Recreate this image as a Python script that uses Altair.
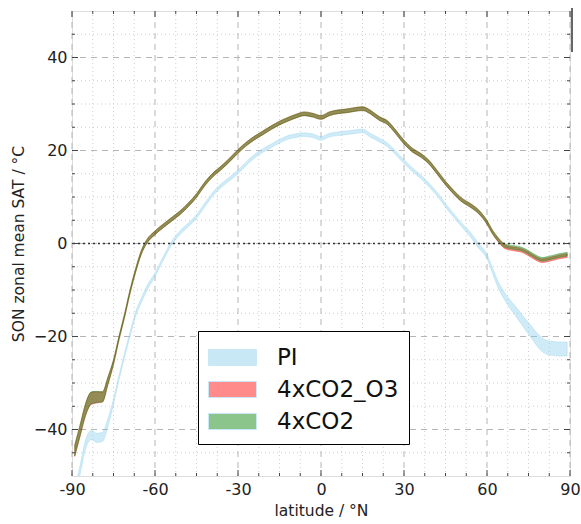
import altair as alt
import pandas as pd

# ---------------- data ----------------
lat = [-89, -87, -85, -83, -81, -79, -77, -75, -73, -71, -69, -67, -65, -63,
       -60, -57, -54, -51, -48, -45, -42, -39, -36, -33, -30, -27, -24, -21,
       -18, -15, -12, -9, -6, -3, 0, 3, 6, 9, 12, 15, 18, 21, 24, 27, 30, 33,
       36, 39, 42, 45, 48, 51, 54, 57, 60, 62, 64, 66, 68, 70, 72, 74, 76, 78,
       80, 82, 84, 86, 88, 89]

pi_mid = [-53.5, -48.5, -43.0, -41.2, -41.8, -41.6, -38.5, -34.0, -28.8, -24.0,
          -19.5, -15.2, -12.3, -9.7, -6.7, -3.2, 0.1, 2.3, 4.0, 5.8, 8.3, 10.7,
          12.5, 13.9, 15.4, 17.2, 18.8, 20.0, 21.0, 22.0, 22.8, 23.2, 23.4, 23.2,
          22.6, 23.3, 23.6, 23.8, 24.0, 24.2, 23.2, 22.3, 21.2, 19.5, 17.6, 15.9,
          14.4, 12.6, 10.6, 8.2, 6.0, 3.9, 1.9, -0.5, -2.8, -5.8, -8.8, -11.0,
          -12.8, -14.3, -15.9, -17.5, -19.0, -20.6, -21.8, -22.4, -22.6, -22.7,
          -22.7, -22.7]
pi_half = [1.0, 1.0, 1.0, 1.0, 1.0, 1.0, 0.9, 0.6, 0.5, 0.5, 0.5, 0.5, 0.5, 0.5,
           0.4, 0.4, 0.4, 0.4, 0.4, 0.4, 0.4, 0.4, 0.4, 0.4, 0.4, 0.4, 0.4, 0.4,
           0.4, 0.4, 0.4, 0.4, 0.4, 0.4, 0.4, 0.4, 0.4, 0.4, 0.4, 0.4, 0.4, 0.4,
           0.4, 0.4, 0.4, 0.4, 0.4, 0.4, 0.4, 0.4, 0.4, 0.4, 0.5, 0.5, 0.5, 0.6,
           0.7, 0.8, 0.9, 1.0, 1.1, 1.2, 1.3, 1.4, 1.5, 1.5, 1.5, 1.5, 1.5, 1.5]

co2_mid = [-44.5, -40.0, -35.5, -33.2, -33.0, -33.0, -29.5, -25.5, -20.3, -15.5,
           -10.3, -5.8, -2.0, 0.4, 2.3, 3.8, 5.2, 6.6, 8.3, 10.3, 12.8, 14.8,
           16.3, 18.0, 19.8, 21.4, 22.7, 23.8, 24.9, 25.9, 26.7, 27.4, 27.9, 27.6,
           27.1, 27.9, 28.3, 28.5, 28.8, 29.0, 28.2, 26.9, 26.0, 24.0, 21.8, 20.1,
           19.0, 17.5, 15.3, 13.0, 11.0, 9.3, 8.2, 6.8, 4.6, 2.5, 0.9, -0.3, -0.7,
           -0.9, -1.1, -1.6, -2.3, -3.0, -3.4, -3.2, -2.9, -2.6, -2.4, -2.3]
co2_half = [1.2, 1.2, 1.3, 1.3, 1.2, 1.1, 0.8, 0.5, 0.4, 0.4, 0.4, 0.4, 0.4, 0.4,
            0.4, 0.4, 0.4, 0.4, 0.4, 0.4, 0.4, 0.4, 0.4, 0.4, 0.4, 0.4, 0.4, 0.4,
            0.4, 0.4, 0.4, 0.4, 0.4, 0.4, 0.4, 0.4, 0.4, 0.4, 0.4, 0.4, 0.4, 0.4,
            0.4, 0.4, 0.4, 0.4, 0.4, 0.4, 0.4, 0.4, 0.4, 0.4, 0.4, 0.4, 0.4, 0.4,
            0.4, 0.4, 0.4, 0.4, 0.4, 0.4, 0.4, 0.4, 0.4, 0.4, 0.4, 0.4, 0.4, 0.4]

o3_mid = [-44.6, -40.1, -35.6, -33.3, -33.1, -33.0, -29.5, -25.5, -20.3, -15.5,
          -10.3, -5.8, -2.0, 0.4, 2.3, 3.8, 5.2, 6.6, 8.3, 10.3, 12.8, 14.8,
          16.3, 18.0, 19.8, 21.4, 22.7, 23.8, 24.9, 25.9, 26.7, 27.4, 27.9, 27.6,
          27.1, 27.9, 28.3, 28.5, 28.8, 29.0, 28.2, 26.9, 26.0, 24.0, 21.8, 20.1,
          19.0, 17.5, 15.3, 13.0, 11.0, 9.3, 8.2, 6.8, 4.5, 2.4, 0.8, -0.5, -1.0,
          -1.2, -1.4, -1.9, -2.6, -3.3, -3.7, -3.5, -3.2, -2.9, -2.7, -2.6]
o3_half = co2_half

series_names = ["PI", "4xCO2_O3", "4xCO2"]
series_colors = ["#87ceeb", "#ff0000", "#008000"]

x_major = [-90, -60, -30, 0, 30, 60, 90]
x_minor = [-82.5, -75, -67.5, -52.5, -45, -37.5, -22.5, -15, -7.5, 7.5, 15,
           22.5, 37.5, 45, 52.5, 67.5, 75, 82.5]
y_major = [-40, -20, 0, 20, 40]
y_minor = [-45, -35, -30, -25, -15, -10, -5, 5, 10, 15, 25, 30, 35, 45]

# ---------------- build tables ----------------
rows = []
for name, mids, halfs in [("PI", pi_mid, pi_half),
                          ("4xCO2_O3", o3_mid, o3_half),
                          ("4xCO2", co2_mid, co2_half)]:
    for la, m, h in zip(lat, mids, halfs):
        rows.append({"lat": la, "lo": m - h, "hi": m + h, "series": name})
df = pd.DataFrame(rows)

W, H = 498, 465
FONT = "DejaVu Sans"

xs = alt.Scale(domain=[-90, 90], nice=False, zero=False)
ys = alt.Scale(domain=[-50, 50], nice=False, zero=False)

x_axis = alt.Axis(values=x_major, grid=False, ticks=False, domain=False,
                  labelExpr="datum.value + ''", labelFontSize=16, labelFont=FONT,
                  labelColor="#222", labelPadding=5, labelFlush=False,
                  title="latitude / °N", titleFont=FONT, titleFontSize=15.5,
                  titleFontWeight="normal", titleColor="#222",
                  titleX=W / 2, titleY=34, titleBaseline="middle")
y_axis = alt.Axis(values=y_major, grid=False, ticks=False, domain=False,
                  labelFontSize=16, labelFont=FONT, labelColor="#222",
                  labelPadding=5,
                  title="SON zonal mean SAT / °C", titleFont=FONT,
                  titleFontSize=15.5, titleFontWeight="normal", titleColor="#222",
                  titleX=-54, titleY=H / 2, titleBaseline="middle")


def X(field):
    return alt.X(field, type="quantitative", scale=xs, axis=x_axis)


def Y(field):
    return alt.Y(field, type="quantitative", scale=ys, axis=y_axis)


xminor_df = pd.DataFrame({"v": x_minor})
xmajor_df = pd.DataFrame({"v": x_major})
yminor_df = pd.DataFrame({"v": y_minor})
ymajor_df = pd.DataFrame({"v": y_major})

grid_minor_x = alt.Chart(xminor_df).mark_rule(color="#cfcfcf", strokeDash=[1, 3],
                                              strokeWidth=1).encode(x=X("v"))
grid_minor_y = alt.Chart(yminor_df).mark_rule(color="#cfcfcf", strokeDash=[1, 3],
                                              strokeWidth=1).encode(y=Y("v"))
grid_major_x = alt.Chart(xmajor_df).mark_rule(color="#b5b5b5", strokeDash=[6, 5],
                                              strokeWidth=1).encode(x=X("v"))
grid_major_y = alt.Chart(ymajor_df).mark_rule(color="#b5b5b5", strokeDash=[6, 5],
                                              strokeWidth=1).encode(y=Y("v"))

color = alt.Color("series:N",
                  scale=alt.Scale(domain=series_names, range=series_colors),
                  legend=alt.Legend(title=None, orient="none", legendX=126,
                                    legendY=320, direction="vertical",
                                    symbolType="M-1,-0.5L2,-0.5L2,0.5L-1,0.5Z",
                                    symbolSize=1024, symbolOpacity=0.45,
                                    symbolStrokeWidth=1,
                                    labelFont=FONT, labelFontSize=23,
                                    labelColor="#111", labelOffset=36,
                                    rowPadding=3, padding=10,
                                    strokeColor="#000", fillColor="#fff",
                                    labelLimit=300))


def band(name, col, op, sop):
    return alt.Chart(df).transform_filter(
        alt.datum.series == name
    ).mark_area(fillOpacity=op, stroke=col, strokeOpacity=sop, strokeWidth=1,
                clip=True, interpolate="monotone").encode(
        x=X("lat"), y=Y("lo"), y2="hi", color=color)


band_pi = band("PI", series_colors[0], 0.4, 0.3)
band_o3 = band("4xCO2_O3", series_colors[1], 0.42, 0.35)
band_co2 = band("4xCO2", series_colors[2], 0.42, 0.35)

zero_line = alt.Chart(pd.DataFrame({"v": [0]})).mark_rule(
    color="#333", strokeDash=[2, 3], strokeWidth=1.3).encode(y=Y("v"))

TC = "#444"
ticks = [
    alt.Chart(xmajor_df).mark_rule(color=TC).encode(x=X("v"), y=alt.value(H), y2=alt.value(H - 6)),
    alt.Chart(xmajor_df).mark_rule(color=TC).encode(x=X("v"), y=alt.value(0), y2=alt.value(6)),
    alt.Chart(xminor_df).mark_rule(color=TC).encode(x=X("v"), y=alt.value(H), y2=alt.value(H - 3)),
    alt.Chart(xminor_df).mark_rule(color=TC).encode(x=X("v"), y=alt.value(0), y2=alt.value(3)),
    alt.Chart(ymajor_df).mark_rule(color=TC).encode(y=Y("v"), x=alt.value(0), x2=alt.value(6)),
    alt.Chart(ymajor_df).mark_rule(color=TC).encode(y=Y("v"), x=alt.value(W), x2=alt.value(W - 6)),
    alt.Chart(yminor_df).mark_rule(color=TC).encode(y=Y("v"), x=alt.value(0), x2=alt.value(3)),
    alt.Chart(yminor_df).mark_rule(color=TC).encode(y=Y("v"), x=alt.value(W), x2=alt.value(W - 3)),
]

# fragment of a neighbouring panel's frame visible at the top right
artifact = alt.Chart(pd.DataFrame({"v": [0]})).mark_rule(
    color="#333", strokeWidth=1.5).encode(
    x=alt.value(W + 2), y=alt.value(-3), y2=alt.value(41))

chart = alt.layer(
    grid_minor_x, grid_minor_y, grid_major_x, grid_major_y,
    band_pi, band_o3, band_co2, zero_line, *ticks, artifact
).properties(
    width=W, height=H,
    autosize=alt.AutoSizeParams(type="none"),
    padding={"left": 72, "top": 11, "right": 11, "bottom": 48},
).configure_view(
    stroke="#444", strokeWidth=1.5
).configure(background="white")

chart.save("out.html", embed_options={"renderer": "svg", "actions": False})
